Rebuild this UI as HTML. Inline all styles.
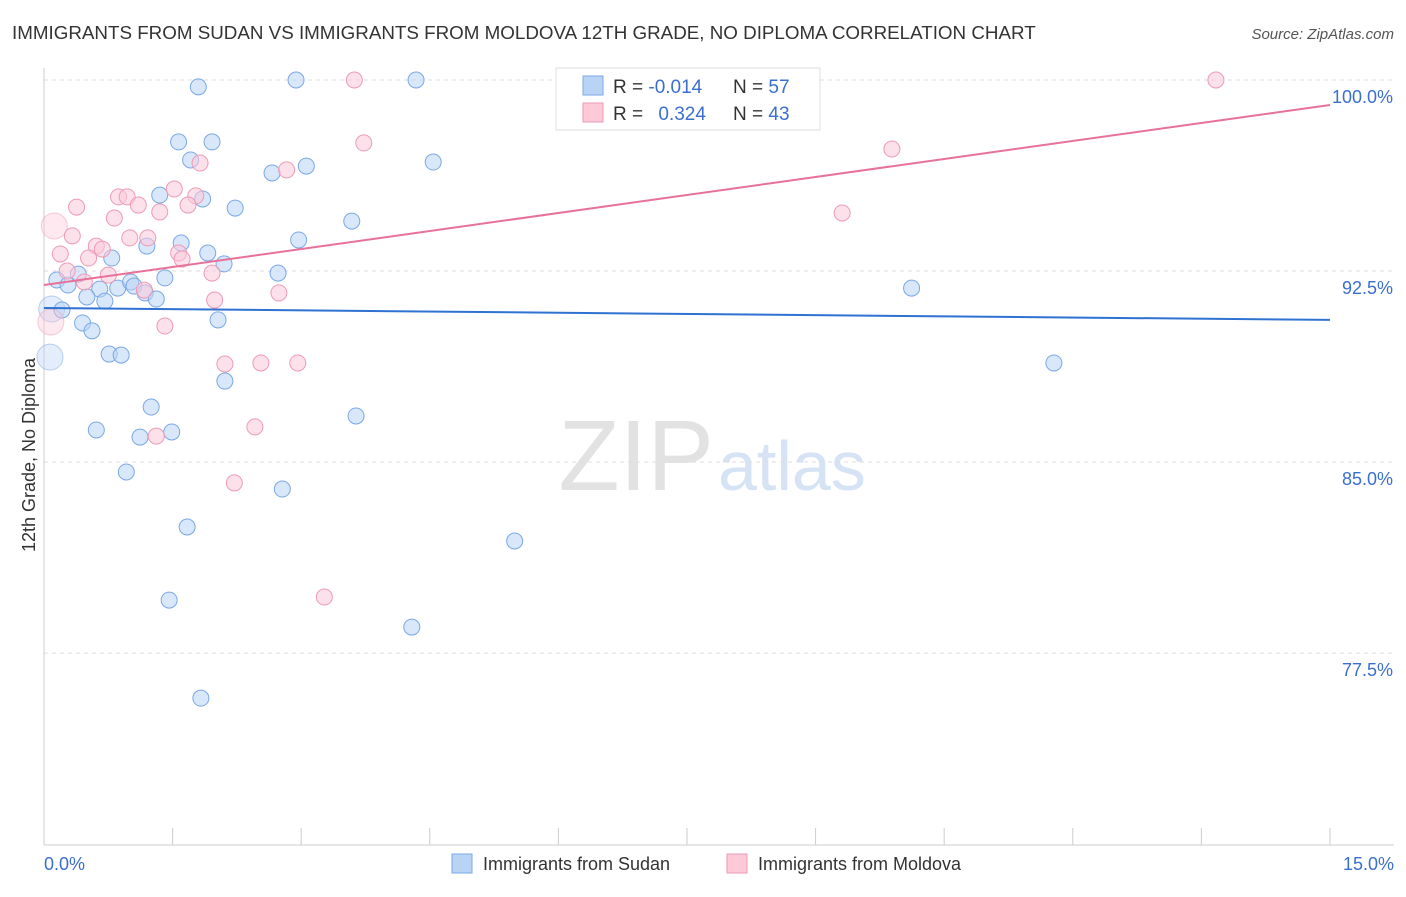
<!DOCTYPE html>
<html><head><meta charset="utf-8"><style>
body{margin:0;background:#fff;font-family:"Liberation Sans",sans-serif}
svg text{font-family:"Liberation Sans",sans-serif}
</style></head><body>
<svg id="c" width="1406" height="892">
<text x="12" y="39" font-size="18.8" fill="#333">IMMIGRANTS FROM SUDAN VS IMMIGRANTS FROM MOLDOVA 12TH GRADE, NO DIPLOMA CORRELATION CHART</text>
<text x="1394" y="39" font-size="15" fill="#555" font-style="italic" text-anchor="end">Source: ZipAtlas.com</text>
<text x="714" y="490" font-size="100" fill="#e2e2e2" font-family="Liberation Serif" text-anchor="end">ZIP</text>
<text x="718" y="490" font-size="70" fill="#d6e3f5">atlas</text>
<text transform="translate(35,455) rotate(-90)" font-size="18" fill="#333" text-anchor="middle">12th Grade, No Diploma</text>
<g id="grid"></g><g id="pts"></g><g id="lines"></g>
<g>
<rect x="556" y="68" width="264" height="62" fill="#fff" stroke="#ddd"/>
<rect x="583" y="76" width="20" height="19" fill="#b9d3f5" stroke="#7aa8e6"/>
<rect x="583" y="103" width="20" height="19" fill="#fbc9d8" stroke="#ee9ab5"/>
<text x="613" y="93" font-size="19" fill="#333">R = <tspan fill="#3a6fd0">-0.014</tspan></text>
<text x="733" y="93" font-size="19" fill="#333">N = <tspan fill="#3a6fd0">57</tspan></text>
<text x="613" y="120" font-size="19" fill="#333">R = <tspan fill="#3a6fd0" dx="10">0.324</tspan></text>
<text x="733" y="120" font-size="19" fill="#333">N = <tspan fill="#3a6fd0">43</tspan></text>
</g>
<g>
<rect x="452" y="854" width="20" height="19" fill="#b9d3f5" stroke="#7aa8e6"/>
<text x="483" y="870" font-size="18" fill="#333">Immigrants from Sudan</text>
<rect x="727" y="854" width="20" height="19" fill="#fbc9d8" stroke="#ee9ab5"/>
<text x="758" y="870" font-size="18" fill="#333">Immigrants from Moldova</text>
</g>
</svg>
<script>
const yTicks=[100,92.5,85,77.5];
const yTickLabels=["100.0%","92.5%","85.0%","77.5%"];
const xTickLabels=["0.0%","15.0%"];
const sudanX=[1.80,2.94,4.34,1.57,1.96,1.71,3.06,4.54,2.66,1.35,1.85,2.23,3.59,2.97,1.60,1.20,1.91,0.79,2.10,2.73,1.41,0.15,0.40,0.28,0.65,0.86,1.01,1.05,1.18,1.31,0.50,0.71,0.09,0.21,2.03,0.45,0.56,0.07,0.76,0.90,2.11,1.25,3.64,0.61,1.12,1.49,0.96,2.78,1.67,5.49,1.46,4.29,1.83,10.12,11.78];
const sudanY=[99.73,100,100,97.57,97.57,96.86,96.62,96.78,96.35,95.48,95.33,94.97,94.46,93.72,93.60,93.48,93.21,93.01,92.78,92.42,92.23,92.15,92.38,91.95,91.79,91.83,92.07,91.91,91.64,91.40,91.48,91.32,91.01,90.97,90.58,90.46,90.15,89.12,89.24,89.20,88.18,87.16,86.81,86.26,85.98,86.18,84.61,83.94,82.45,81.90,79.58,78.52,75.73,91.83,88.89];
const sudanBig=[37,32];
const moldX=[3.62,7.98,13.67,3.73,9.89,2.83,1.82,1.52,0.87,0.97,1.77,1.10,1.68,1.35,0.38,0.82,0.12,0.33,1.00,1.21,0.61,0.68,0.19,0.52,1.57,1.61,1.96,0.27,0.75,0.47,1.17,2.74,1.99,0.08,1.41,2.11,2.53,2.96,2.46,1.31,2.22,3.27,9.31];
const moldY=[100,100,100,97.53,97.29,96.47,96.74,95.72,95.41,95.41,95.45,95.09,95.09,94.82,95.01,94.58,94.27,93.88,93.80,93.80,93.48,93.36,93.17,93.01,93.21,92.97,92.42,92.50,92.34,92.07,91.75,91.64,91.36,90.50,90.34,88.85,88.89,88.89,86.38,86.02,84.18,79.70,94.78];
const moldBig=[16,33];
const sudanLine=[91.05,90.58];
const moldLine=[91.95,99.02];
const NS="http://www.w3.org/2000/svg";
const X=v=>44+v*85.73, Y=v=>80+(100-v)*25.47;
function mk(t,a,p){const e=document.createElementNS(NS,t);for(const k in a)e.setAttribute(k,a[k]);document.getElementById(p).appendChild(e);return e;}
yTicks.forEach((t,i)=>{
 const g=mk('line',{x1:44,x2:1394,y1:Y(t),y2:Y(t),stroke:'#ddd','stroke-dasharray':'4,4'},'grid');
 
 
 const l=mk('text',{x:1393,y:Y(t)+23,'font-size':18,fill:'#3a6fd0','text-anchor':'end'},'grid');l.textContent=yTickLabels[i];
 
 
});
const ax=mk('line',{x1:44,x2:44,y1:68,y2:845,stroke:'#ccc'},'grid');


const bx=mk('line',{x1:44,x2:1394,y1:845,y2:845,stroke:'#ccc'},'grid');


for(let i=0;i<=10;i++){const t=mk('line',{x1:X(i*1.5),x2:X(i*1.5),y1:828,y2:845,stroke:'#ccc'},'grid');
 
 }
[[0,'start',44],[15,'end',1394]].forEach((d,i)=>{const t=mk('text',{x:d[2],y:870,'font-size':18,fill:'#3a6fd0','text-anchor':d[1]},'grid');t.textContent=xTickLabels[i];
 
 });
function pts(xs,ys,big,fill,stroke,name){xs.forEach((x,i)=>{const b=big.includes(i);const c=mk('circle',{cx:X(x),cy:Y(ys[i]),r:b?13:8,fill:fill,'fill-opacity':b?0.4:0.55,stroke:stroke,'stroke-opacity':b?0.5:1,'stroke-width':1},'pts');
 
 });}
pts(sudanX,sudanY,sudanBig,'#b9d3f5','#7aa8e6','sudan-point');
pts(moldX,moldY,moldBig,'#fbc9d8','#ee9ab5','moldova-point');
const l1=mk('line',{x1:X(0),x2:X(15),y1:Y(sudanLine[0]),y2:Y(sudanLine[1]),stroke:'#2f72d2','stroke-width':2},'lines');


const l2=mk('line',{x1:X(0),x2:X(15),y1:Y(moldLine[0]),y2:Y(moldLine[1]),stroke:'#e8719a','stroke-width':2},'lines');


</script>
</body></html>
